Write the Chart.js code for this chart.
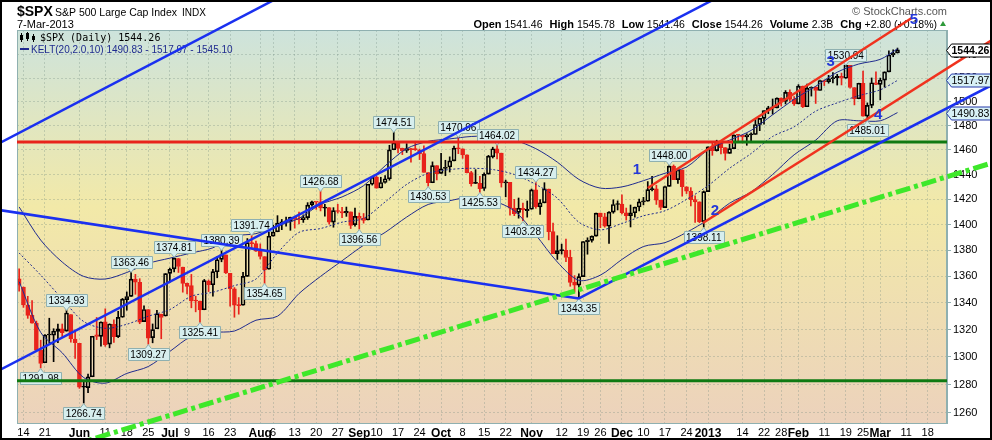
<!DOCTYPE html>
<html>
<head>
<meta charset="utf-8">
<script src="https://cdn.jsdelivr.net/npm/chart.js@4.4.1/dist/chart.umd.min.js"></script>
<style>
  html, body { margin: 0; padding: 0; background: #fff; }
  #wrap { width: 992px; height: 440px; }
</style>
</head>
<body>
<div id="wrap"><canvas id="spx" width="992" height="440"></canvas></div>
<script>
// daily bars, 11 May 2012 .. 7 Mar 2013
const dates = [
  '2012-05-11','2012-05-14','2012-05-15','2012-05-16','2012-05-17','2012-05-18','2012-05-21','2012-05-22','2012-05-23','2012-05-24','2012-05-25','2012-05-29','2012-05-30','2012-05-31',
  '2012-06-01','2012-06-04','2012-06-05','2012-06-06','2012-06-07','2012-06-08','2012-06-11','2012-06-12','2012-06-13','2012-06-14','2012-06-15','2012-06-18','2012-06-19','2012-06-20','2012-06-21','2012-06-22','2012-06-25','2012-06-26','2012-06-27','2012-06-28','2012-06-29',
  '2012-07-02','2012-07-03','2012-07-05','2012-07-06','2012-07-09','2012-07-10','2012-07-11','2012-07-12','2012-07-13','2012-07-16','2012-07-17','2012-07-18','2012-07-19','2012-07-20','2012-07-23','2012-07-24','2012-07-25','2012-07-26','2012-07-27','2012-07-30','2012-07-31',
  '2012-08-01','2012-08-02','2012-08-03','2012-08-06','2012-08-07','2012-08-08','2012-08-09','2012-08-10','2012-08-13','2012-08-14','2012-08-15','2012-08-16','2012-08-17','2012-08-20','2012-08-21','2012-08-22','2012-08-23','2012-08-24','2012-08-27','2012-08-28','2012-08-29','2012-08-30','2012-08-31',
  '2012-09-04','2012-09-05','2012-09-06','2012-09-07','2012-09-10','2012-09-11','2012-09-12','2012-09-13','2012-09-14','2012-09-17','2012-09-18','2012-09-19','2012-09-20','2012-09-21','2012-09-24','2012-09-25','2012-09-26','2012-09-27','2012-09-28',
  '2012-10-01','2012-10-02','2012-10-03','2012-10-04','2012-10-05','2012-10-08','2012-10-09','2012-10-10','2012-10-11','2012-10-12','2012-10-15','2012-10-16','2012-10-17','2012-10-18','2012-10-19','2012-10-22','2012-10-23','2012-10-24','2012-10-25','2012-10-26','2012-10-31',
  '2012-11-01','2012-11-02','2012-11-05','2012-11-06','2012-11-07','2012-11-08','2012-11-09','2012-11-12','2012-11-13','2012-11-14','2012-11-15','2012-11-16','2012-11-19','2012-11-20','2012-11-21','2012-11-23','2012-11-26','2012-11-27','2012-11-28','2012-11-29','2012-11-30',
  '2012-12-03','2012-12-04','2012-12-05','2012-12-06','2012-12-07','2012-12-10','2012-12-11','2012-12-12','2012-12-13','2012-12-14','2012-12-17','2012-12-18','2012-12-19','2012-12-20','2012-12-21','2012-12-24','2012-12-26','2012-12-27','2012-12-28','2012-12-31',
  '2013-01-02','2013-01-03','2013-01-04','2013-01-07','2013-01-08','2013-01-09','2013-01-10','2013-01-11','2013-01-14','2013-01-15','2013-01-16','2013-01-17','2013-01-18','2013-01-22','2013-01-23','2013-01-24','2013-01-25','2013-01-28','2013-01-29','2013-01-30','2013-01-31',
  '2013-02-01','2013-02-04','2013-02-05','2013-02-06','2013-02-07','2013-02-08','2013-02-11','2013-02-12','2013-02-13','2013-02-14','2013-02-15','2013-02-19','2013-02-20','2013-02-21','2013-02-22','2013-02-25','2013-02-26','2013-02-27','2013-02-28',
  '2013-03-01','2013-03-04','2013-03-05','2013-03-06','2013-03-07'
];
// empty days to the right edge
const futureDates = ['2013-03-08','2013-03-11','2013-03-12','2013-03-13','2013-03-14','2013-03-15','2013-03-18','2013-03-19','2013-03-20','2013-03-21','2013-03-22'];

const opens = [
  1358.11,1351.93,1338.36,1330.78,1324.82,1305.05,1295.73,1316.09,1316.02,1318.72,1320.64,1318.90,1331.25,1313.09,
  1309.87,1278.29,1277.82,1285.61,1316.15,1314.99,1325.72,1309.40,1324.02,1314.88,1329.19,1342.42,1344.83,1357.99,1355.43,1325.92,1334.90,1314.09,1320.71,1331.52,1330.12,
  1362.33,1365.75,1373.72,1367.09,1354.66,1352.96,1341.40,1341.29,1334.81,1356.50,1353.68,1363.58,1373.01,1376.51,1362.34,1350.52,1338.35,1338.17,1360.05,1385.94,1385.27,
  1379.32,1375.13,1365.45,1391.04,1394.46,1401.23,1402.26,1402.58,1405.87,1404.36,1403.89,1405.57,1415.84,1417.85,1418.13,1413.09,1413.49,1401.99,1411.13,1410.44,1409.32,1410.08,1400.07,
  1406.54,1404.94,1403.74,1432.12,1437.92,1429.13,1433.56,1436.56,1460.07,1465.42,1461.19,1459.50,1461.05,1460.34,1459.76,1456.94,1441.60,1433.36,1447.13,
  1440.90,1444.99,1446.05,1451.08,1461.40,1460.93,1455.90,1441.48,1432.82,1432.84,1428.75,1440.31,1454.22,1460.94,1457.34,1433.21,1433.74,1413.20,1409.74,1412.97,1410.99,
  1412.20,1427.59,1414.02,1417.26,1428.27,1394.53,1377.55,1379.86,1380.03,1374.64,1355.41,1353.36,1359.88,1386.82,1387.79,1391.03,1409.15,1406.29,1398.77,1409.96,1415.95,
  1416.34,1409.46,1407.05,1409.43,1413.95,1418.07,1418.55,1427.84,1428.48,1419.45,1413.54,1430.47,1446.79,1435.81,1443.67,1430.15,1426.66,1419.83,1418.10,1402.43,
  1426.19,1462.42,1459.37,1466.47,1461.89,1457.15,1461.02,1472.12,1472.05,1470.67,1472.33,1472.63,1480.95,1485.98,1492.56,1494.81,1494.82,1502.96,1500.18,1507.84,1501.96,
  1498.11,1513.17,1495.71,1511.29,1512.12,1509.39,1517.93,1517.01,1519.43,1520.33,1521.38,1519.79,1530.94,1511.95,1502.42,1515.60,1487.85,1496.94,1515.99,
  1514.68,1518.20,1525.20,1539.79,1541.46
];
const highs = [
  1365.88,1351.93,1344.94,1341.78,1326.36,1312.24,1316.39,1328.49,1320.71,1324.14,1324.20,1334.93,1331.25,1319.74,
  1309.87,1282.55,1287.62,1315.13,1329.05,1325.81,1335.52,1324.31,1327.28,1333.68,1343.32,1348.22,1363.46,1361.57,1358.27,1337.82,1334.90,1324.24,1334.40,1331.52,1362.17,
  1366.35,1374.81,1373.85,1367.09,1354.87,1361.54,1345.00,1341.29,1357.70,1357.26,1365.36,1375.26,1380.39,1376.51,1362.34,1351.53,1343.98,1363.13,1389.19,1391.74,1387.16,
  1385.03,1375.13,1394.16,1399.63,1407.14,1404.14,1405.95,1405.98,1405.87,1410.03,1407.73,1417.44,1418.71,1418.13,1426.68,1416.12,1413.49,1413.46,1416.17,1413.63,1413.95,1410.08,1413.09,
  1409.31,1408.81,1432.12,1437.92,1438.74,1437.76,1439.15,1463.76,1474.51,1465.63,1461.47,1465.15,1461.23,1467.07,1460.72,1463.24,1441.60,1450.20,1447.13,
  1457.14,1451.52,1454.30,1463.14,1470.96,1460.93,1455.90,1442.52,1443.90,1438.43,1441.31,1455.51,1462.20,1464.02,1457.34,1435.46,1433.74,1420.04,1421.12,1417.09,1418.76,
  1428.35,1434.27,1419.90,1433.38,1428.27,1401.23,1391.39,1384.87,1388.81,1380.13,1360.62,1362.03,1386.89,1389.77,1391.25,1409.16,1409.15,1409.01,1410.31,1419.70,1418.86,
  1423.73,1413.14,1415.56,1413.95,1420.34,1421.64,1434.27,1438.59,1431.36,1419.45,1430.67,1448.00,1447.75,1443.70,1443.67,1430.15,1429.42,1422.80,1418.10,1426.74,
  1462.43,1465.47,1467.94,1466.47,1461.89,1464.73,1472.30,1472.75,1472.05,1473.31,1473.96,1485.16,1485.98,1492.56,1496.13,1502.27,1503.26,1503.23,1509.35,1509.94,1504.19,
  1514.41,1513.17,1514.96,1512.53,1512.90,1518.31,1518.31,1522.29,1524.69,1523.14,1524.24,1530.94,1530.94,1511.95,1515.64,1525.84,1498.99,1520.08,1525.34,
  1519.99,1525.27,1543.47,1544.26,1545.78
];
const lows = [
  1348.89,1336.61,1328.41,1324.79,1304.86,1291.98,1295.73,1310.04,1296.53,1310.50,1314.23,1318.90,1310.76,1298.90,
  1277.25,1266.74,1274.16,1285.61,1312.68,1307.77,1307.73,1306.62,1310.51,1314.14,1329.19,1334.46,1344.83,1346.45,1324.41,1325.92,1309.27,1310.30,1320.71,1313.29,1330.12,
  1355.70,1363.53,1363.02,1348.03,1346.65,1336.27,1333.25,1325.41,1334.81,1348.51,1345.07,1358.96,1371.21,1362.19,1337.56,1329.24,1331.50,1338.17,1360.05,1381.37,1379.17,
  1373.35,1354.65,1365.45,1391.04,1394.46,1396.13,1398.80,1395.62,1397.32,1400.60,1401.83,1404.15,1414.67,1412.12,1410.86,1406.78,1400.50,1398.04,1409.11,1405.59,1406.57,1397.01,1398.96,
  1396.56,1401.25,1403.74,1431.45,1428.98,1429.13,1432.99,1435.34,1460.07,1457.55,1456.13,1457.88,1449.98,1459.51,1452.06,1441.59,1430.53,1433.36,1435.60,
  1440.90,1439.01,1441.99,1451.08,1456.89,1453.10,1441.18,1430.64,1432.82,1425.53,1427.24,1440.31,1453.35,1452.63,1429.85,1422.06,1407.56,1407.10,1405.14,1403.28,1405.95,
  1412.20,1412.91,1408.13,1417.26,1388.14,1377.51,1373.03,1377.19,1371.39,1352.50,1348.05,1343.35,1359.88,1377.04,1386.39,1391.03,1397.68,1398.03,1385.43,1409.04,1411.63,
  1408.46,1403.65,1398.23,1405.93,1410.90,1415.64,1418.55,1426.76,1416.00,1411.88,1413.54,1430.47,1435.80,1432.82,1422.58,1424.66,1414.82,1401.80,1401.58,1398.11,
  1426.19,1455.53,1458.99,1456.62,1451.64,1457.15,1461.02,1467.58,1465.69,1463.76,1467.60,1472.63,1475.81,1481.16,1489.90,1489.46,1494.82,1496.33,1498.09,1500.11,1496.76,
  1498.11,1495.02,1495.71,1504.71,1498.49,1509.39,1513.61,1515.61,1515.93,1514.02,1514.14,1519.79,1511.41,1497.29,1502.42,1487.85,1485.01,1494.88,1514.46,
  1501.48,1512.29,1525.20,1538.28,1541.46
];
const closes = [
  1353.39,1338.35,1330.66,1324.80,1304.86,1295.22,1315.99,1316.63,1318.86,1320.68,1317.82,1332.42,1313.32,1310.33,
  1278.04,1278.18,1285.50,1315.13,1314.99,1325.66,1308.93,1324.18,1314.88,1329.10,1342.84,1344.78,1357.98,1355.69,1325.51,1335.02,1313.72,1319.99,1331.85,1329.04,1362.16,
  1365.51,1374.02,1367.58,1354.68,1352.46,1341.47,1341.45,1334.76,1356.78,1353.64,1363.67,1372.78,1376.51,1362.66,1350.52,1338.31,1337.89,1360.02,1385.97,1385.30,1379.32,
  1375.32,1365.00,1390.99,1394.23,1401.35,1402.22,1402.80,1405.87,1404.11,1403.93,1405.53,1415.51,1418.16,1418.13,1413.17,1413.49,1402.08,1411.13,1410.44,1409.30,1410.49,1399.48,1406.58,
  1404.94,1403.44,1432.12,1437.92,1429.08,1433.56,1436.56,1459.99,1465.77,1461.19,1459.32,1461.05,1460.26,1460.15,1456.89,1441.59,1433.32,1447.15,1440.67,
  1444.49,1445.75,1450.99,1461.40,1460.93,1455.88,1441.48,1432.56,1432.84,1428.59,1440.13,1454.92,1460.91,1457.34,1433.19,1433.82,1413.11,1408.75,1412.97,1411.94,1412.16,
  1427.59,1414.20,1417.26,1428.39,1394.53,1377.51,1379.85,1380.03,1374.53,1355.49,1353.33,1359.88,1386.89,1387.81,1391.03,1409.15,1406.29,1398.94,1409.93,1415.95,1416.18,
  1409.46,1407.05,1409.28,1413.94,1418.07,1418.55,1427.84,1428.48,1419.45,1413.58,1430.36,1446.79,1435.81,1443.69,1430.15,1426.66,1419.83,1418.10,1402.43,1426.19,
  1462.42,1459.37,1466.47,1461.89,1457.15,1461.02,1472.12,1472.05,1470.68,1472.34,1472.63,1480.94,1485.98,1492.56,1494.81,1494.82,1502.96,1500.18,1507.84,1501.96,1498.11,
  1513.17,1495.71,1511.29,1512.12,1509.39,1517.93,1517.01,1519.43,1520.33,1521.38,1519.79,1530.94,1511.95,1502.42,1515.60,1487.85,1496.94,1515.99,1514.68,
  1518.20,1525.20,1539.79,1541.46,1544.26
];

// KELT(20,2.0,10), one point a week
const keltDates = ['2012-05-11','2012-05-18','2012-05-25','2012-06-04','2012-06-11','2012-06-18','2012-06-25','2012-07-02','2012-07-10','2012-07-17','2012-07-24','2012-07-31',
  '2012-08-07','2012-08-14','2012-08-21','2012-08-28','2012-09-05','2012-09-12','2012-09-19','2012-09-26','2012-10-03','2012-10-10','2012-10-17','2012-10-24','2012-11-02',
  '2012-11-09','2012-11-16','2012-11-26','2012-12-03','2012-12-10','2012-12-17','2012-12-24','2013-01-02','2013-01-09','2013-01-16','2013-01-24','2013-01-31','2013-02-07',
  '2013-02-14','2013-02-22','2013-03-01','2013-03-07'];
const keltUpper = [1414,1388,1371,1360,1358,1363,1370,1374,1378,1382,1391,1393,1399,1405,1416,1422,1431,1447,1461,1467,1469,1471,1471,1468,1461,
  1450,1436,1429,1430,1435,1441,1446,1460,1468,1476,1489,1502,1513,1525,1532,1536,1545.10];
const keltMiddle = [1378,1361,1343,1326,1321,1324,1330,1335,1345,1348,1353,1358,1378,1394,1397,1402,1405,1418,1432,1441,1444,1445,1444,1440,1432,
  1421,1402,1396,1401,1407,1411,1420,1431,1445,1457,1471,1479,1492,1499,1505,1510,1517.97];
const keltLower = [1356,1318,1303,1285,1281,1288,1293,1304,1315,1318,1319,1327,1330,1347,1360,1372,1384,1394,1406,1416,1419,1422,1419,1411,1392,
  1371,1357,1361,1373,1383,1386,1394,1404,1417,1426,1440,1456,1468,1484,1484,1484,1490.83];

const yTicks = [1260,1280,1300,1320,1340,1360,1380,1400,1420,1440,1460,1480,1500,1520,1540];
const xTickLabels = {
  '2012-05-14':'14','2012-05-21':'21','2012-06-01':'Jun','2012-06-11':'11','2012-06-18':'18','2012-06-25':'25',
  '2012-07-02':'Jul','2012-07-09':'9','2012-07-16':'16','2012-07-23':'23','2012-08-01':'Aug','2012-08-06':'6',
  '2012-08-13':'13','2012-08-20':'20','2012-08-27':'27','2012-09-04':'Sep','2012-09-10':'10','2012-09-17':'17',
  '2012-09-24':'24','2012-10-01':'Oct','2012-10-08':'8','2012-10-15':'15','2012-10-22':'22','2012-11-01':'Nov',
  '2012-11-12':'12','2012-11-19':'19','2012-11-26':'26','2012-12-03':'Dec','2012-12-10':'10','2012-12-17':'17',
  '2012-12-24':'24','2013-01-02':'2013','2013-01-14':'14','2013-01-22':'22','2013-01-28':'28','2013-02-01':'Feb',
  '2013-02-11':'11','2013-02-19':'19','2013-02-25':'25','2013-03-01':'Mar','2013-03-11':'11','2013-03-18':'18'
};
const boldLabels = ['Jun','Jul','Aug','Sep','Oct','Nov','Dec','2013','Feb','Mar'];

// price flags: which bar, and whether the flag marks its high or low
const flagDates = ['2012-05-18','2012-05-29','2012-06-04','2012-06-19','2012-06-25','2012-07-03','2012-07-12','2012-07-19',
  '2012-07-30','2012-08-02','2012-08-21','2012-09-04','2012-09-14','2012-09-26','2012-10-05','2012-10-12','2012-10-18',
  '2012-10-26','2012-11-02','2012-11-16','2012-12-18','2012-12-31','2013-02-19','2013-02-26'];
const flagSides = ['L','H','L','H','L','H','L','H','H','L','H','L','H','L','H','L','H','L','H','L','H','L','H','L'];

// hand drawn lines, [bar index, price] pairs
const blueLines = [
  [[-4.46, 1465.7], [59.17, 1588.0], 'both'],
  [[-4.46, 1290.5], [161.1, 1588.0], 'both'],
  [[-4.46, 1411.5], [130, 1343.35], 'start'],
  [[130, 1343.35], [225.9, 1514.0], 'end']
];
const redLines = [
  [[146.0, 1429.1], [207.3, 1572.0], 'none'],
  [[158.8, 1401.4], [225.9, 1552.7], 'end']
];
const greenDashLine = [[16.45, 1240.9], [225.9, 1449.3]];
const resistLevel = 1466.5, resistTurnIdx = 165.8;
const supportLevel = 1282.8;
const waveText = ['1','2','3','4','5'];
const waveIdx = [143.5, 161.6, 188.5, 199.5, 207.8];
const wavePrice = [1443.6, 1410.8, 1533.9, 1489.2, 1570.3];
const volumeText = '2.3B';

const RED = '#e8231b', BLUE = '#1a30f0', NAVY = '#1f2b8f';
const FONT = '"Liberation Sans", Arial, sans-serif';
Chart.defaults.font.family = FONT;

const allDates = dates.concat(futureDates);
const n = closes.length;
const candleColor = closes.map((c, i) => c < (i ? closes[i - 1] : opens[i]) ? RED : '#000000');
const bodyFill = closes.map((c, i) => c < opens[i] ? candleColor[i] : 'rgba(0,0,0,0)');

function drawFlag(ctx, x, y, text, below) {
  ctx.font = '10px ' + FONT;
  const w = Math.round(ctx.measureText(text).width) + 5, h = 12;
  const bx = Math.round(x - w / 2) + 0.5;
  const by = Math.round(below ? y + 4 : y - 4 - h) + 0.5;
  ctx.fillStyle = '#d7eeee';
  ctx.strokeStyle = '#8fb0b0';
  ctx.lineWidth = 1;
  ctx.beginPath();
  if (below) {
    ctx.moveTo(bx, by); ctx.lineTo(x - 3, by); ctx.lineTo(x, by - 4); ctx.lineTo(x + 3, by);
    ctx.lineTo(bx + w, by); ctx.lineTo(bx + w, by + h); ctx.lineTo(bx, by + h);
  } else {
    ctx.moveTo(bx, by); ctx.lineTo(bx + w, by); ctx.lineTo(bx + w, by + h); ctx.lineTo(x + 3, by + h);
    ctx.lineTo(x, by + h + 4); ctx.lineTo(x - 3, by + h); ctx.lineTo(bx, by + h);
  }
  ctx.closePath();
  ctx.fill(); ctx.stroke();
  ctx.fillStyle = '#000';
  ctx.textAlign = 'center';
  ctx.textBaseline = 'middle';
  ctx.fillText(text, x, by + h / 2 + 0.5);
}

function strokeTrend(ctx, chart, p1, p2, extend) {
  const xs = chart.scales.x, ys = chart.scales.y;
  let x1 = xs.getPixelForValue(p1[0]), y1 = ys.getPixelForValue(p1[1]);
  let x2 = xs.getPixelForValue(p2[0]), y2 = ys.getPixelForValue(p2[1]);
  const dx = x2 - x1, dy = y2 - y1;
  if (extend === 'both' || extend === 'start') { x1 -= dx * 20; y1 -= dy * 20; }
  if (extend === 'both' || extend === 'end') { x2 += dx * 20; y2 += dy * 20; }
  ctx.beginPath(); ctx.moveTo(x1, y1); ctx.lineTo(x2, y2); ctx.stroke();
}

function axisTag(ctx, x, y, text, bold, fill, stroke) {
  ctx.font = (bold ? 'bold ' : '') + '10.5px ' + FONT;
  ctx.beginPath();
  ctx.moveTo(x - 1, y); ctx.lineTo(x + 4, y - 6.5); ctx.lineTo(990.5, y - 6.5);
  ctx.lineTo(990.5, y + 6.5); ctx.lineTo(x + 4, y + 6.5); ctx.closePath();
  ctx.fillStyle = fill; ctx.fill();
  ctx.strokeStyle = stroke; ctx.lineWidth = 1; ctx.stroke();
  ctx.fillStyle = '#000'; ctx.textAlign = 'left'; ctx.textBaseline = 'middle';
  ctx.fillText(text, x + 4, y + 0.5);
}

const backdrop = {
  id: 'backdrop',
  beforeDraw(chart) {
    const { ctx, chartArea: a } = chart;
    ctx.save();
    ctx.fillStyle = '#fff';
    ctx.fillRect(0, 0, chart.width, chart.height);
    const g = ctx.createLinearGradient(0, a.top, 0, a.bottom);
    g.addColorStop(0, '#cde3dc');
    g.addColorStop(0.45, '#f2e9a8');
    g.addColorStop(1, '#ecd2bc');
    ctx.fillStyle = g;
    ctx.fillRect(a.left, a.top, a.right - a.left, a.bottom - a.top);
    ctx.restore();
  }
};

const overlay = {
  id: 'overlay',
  afterDraw(chart) {
    const { ctx, chartArea: a } = chart;
    const xs = chart.scales.x, ys = chart.scales.y;
    ctx.save();

    // plot frame
    ctx.strokeStyle = '#8fb0b0'; ctx.lineWidth = 1;
    ctx.strokeRect(a.left + 0.5, a.top + 0.5, a.right - a.left - 1, a.bottom - a.top);

    // legend
    ctx.fillStyle = '#000';
    ctx.fillRect(21, 33, 1, 9); ctx.strokeStyle = '#000'; ctx.strokeRect(20.5, 35.5, 2, 4);
    ctx.fillRect(27, 32, 1, 9); ctx.strokeRect(26.5, 33.5, 2, 5);
    ctx.fillRect(33, 34, 1, 8); ctx.fillRect(32, 36, 3, 4);
    ctx.font = '10px "DejaVu Sans Mono", monospace';
    ctx.textAlign = 'left'; ctx.textBaseline = 'alphabetic';
    ctx.fillText('$SPX (Daily) ' + closes[n - 1].toFixed(2), 40, 41);
    ctx.fillStyle = NAVY;
    ctx.fillRect(20, 48, 9, 2);
    ctx.font = '10px ' + FONT;
    ctx.fillText('KELT(20,2.0,10) ' + keltLower[keltLower.length - 1].toFixed(2) + ' - ' +
      keltMiddle[keltMiddle.length - 1].toFixed(2) + ' - ' + keltUpper[keltUpper.length - 1].toFixed(2), 31, 53);

    // price flags
    flagDates.forEach((d, k) => {
      const i = dates.indexOf(d);
      const v = flagSides[k] === 'H' ? highs[i] : lows[i];
      drawFlag(ctx, xs.getPixelForValue(i), ys.getPixelForValue(v), v.toFixed(2), flagSides[k] === 'L');
    });

    // header
    ctx.fillStyle = '#000'; ctx.textAlign = 'left'; ctx.textBaseline = 'alphabetic';
    ctx.font = 'bold 14px ' + FONT; ctx.fillText('$SPX', 17, 16);
    ctx.font = '10.5px ' + FONT; ctx.fillText('S&P 500 Large Cap Index', 55, 16);
    ctx.font = '10px ' + FONT; ctx.fillText('INDX', 182, 16);
    ctx.font = '11px ' + FONT; ctx.fillText('7-Mar-2013', 17, 28);
    const chg = closes[n - 1] - closes[n - 2];
    const quote = [
      ['Open', opens[n - 1].toFixed(2)], ['High', highs[n - 1].toFixed(2)], ['Low', lows[n - 1].toFixed(2)],
      ['Close', closes[n - 1].toFixed(2)], ['Volume', volumeText],
      ['Chg', '+' + chg.toFixed(2) + ' (+' + (chg / closes[n - 2] * 100).toFixed(2) + '%)']
    ];
    let total = 0;
    quote.forEach(([l, v]) => {
      ctx.font = 'bold 11px ' + FONT; total += ctx.measureText(l).width + 3;
      ctx.font = '10.5px ' + FONT; total += ctx.measureText(v).width + 7;
    });
    let qx = 944 - total;
    quote.forEach(([l, v]) => {
      ctx.font = 'bold 11px ' + FONT; ctx.fillText(l, qx, 28); qx += ctx.measureText(l).width + 3;
      ctx.font = '10.5px ' + FONT; ctx.fillText(v, qx, 28); qx += ctx.measureText(v).width + 7;
    });
    ctx.fillStyle = '#2e9a3a';
    ctx.beginPath(); ctx.moveTo(940, 26); ctx.lineTo(946, 26); ctx.lineTo(943, 21); ctx.closePath(); ctx.fill();
    ctx.fillStyle = '#555'; ctx.textAlign = 'right'; ctx.font = '11px ' + FONT;
    ctx.fillText('\u00a9 StockCharts.com', 947, 15);

    // horizontal levels
    ctx.lineWidth = 3;
    const ry = ys.getPixelForValue(resistLevel), tx = xs.getPixelForValue(resistTurnIdx);
    ctx.strokeStyle = RED;
    ctx.beginPath(); ctx.moveTo(a.left, ry); ctx.lineTo(tx, ry); ctx.stroke();
    ctx.strokeStyle = '#0f7a12';
    ctx.beginPath(); ctx.moveTo(tx, ry); ctx.lineTo(a.right, ry); ctx.stroke();
    const sy = ys.getPixelForValue(supportLevel);
    ctx.beginPath(); ctx.moveTo(a.left, sy); ctx.lineTo(a.right, sy); ctx.stroke();

    // trend lines
    ctx.lineWidth = 2.5;
    ctx.strokeStyle = BLUE;
    blueLines.forEach(l => strokeTrend(ctx, chart, l[0], l[1], l[2]));
    ctx.strokeStyle = '#f0321e';
    redLines.forEach(l => strokeTrend(ctx, chart, l[0], l[1], l[2]));
    ctx.strokeStyle = '#3ee82a'; ctx.lineWidth = 5; ctx.setLineDash([15, 4, 4, 4]);
    strokeTrend(ctx, chart, greenDashLine[0], greenDashLine[1], 'both');
    ctx.setLineDash([]);

    // wave counts
    ctx.fillStyle = '#2438d8'; ctx.font = 'bold 15px ' + FONT;
    ctx.textAlign = 'center'; ctx.textBaseline = 'middle';
    waveText.forEach((t, k) => ctx.fillText(t, xs.getPixelForValue(waveIdx[k]), ys.getPixelForValue(wavePrice[k])));

    // right axis tags
    const ax = a.right;
    axisTag(ctx, ax + 0.5, Math.round(ys.getPixelForValue(keltLower[keltLower.length - 1])) + 0.5,
      keltLower[keltLower.length - 1].toFixed(2), false, '#d8f1f6', '#2438a8');
    axisTag(ctx, ax + 0.5, Math.round(ys.getPixelForValue(keltMiddle[keltMiddle.length - 1])) + 0.5,
      keltMiddle[keltMiddle.length - 1].toFixed(2), false, '#d8f1f6', '#2438a8');
    axisTag(ctx, ax + 0.5, Math.round(ys.getPixelForValue(closes[n - 1])) + 0.5,
      closes[n - 1].toFixed(2), true, '#ffffff', '#000000');

    // outer border
    ctx.strokeStyle = '#000'; ctx.lineWidth = 2;
    ctx.strokeRect(1, 1, chart.width - 2, chart.height - 2);
    ctx.restore();
  }
};

const keltPoints = arr => keltDates.map((d, k) => ({ x: d, y: arr[k] }));

new Chart(document.getElementById('spx'), {
  data: {
    labels: allDates,
    datasets: [
      { type: 'line', data: keltPoints(keltUpper), borderColor: NAVY, borderWidth: 1, pointRadius: 0, tension: 0.3, order: 0 },
      { type: 'line', data: keltPoints(keltMiddle), borderColor: NAVY, borderWidth: 1, borderDash: [2, 2], pointRadius: 0, tension: 0.3, order: 0 },
      { type: 'line', data: keltPoints(keltLower), borderColor: NAVY, borderWidth: 1, pointRadius: 0, tension: 0.3, order: 0 },
      { type: 'bar', data: opens.map((o, i) => [Math.min(o, closes[i]), Math.max(o, closes[i])]),
        backgroundColor: bodyFill, borderColor: candleColor, borderWidth: 1, borderSkipped: false,
        barThickness: 4, minBarLength: 1, grouped: false, order: 1 },
      { type: 'bar', data: lows.map((l, i) => [l, Math.min(opens[i], closes[i])]),
        backgroundColor: candleColor, barThickness: 1, grouped: false, order: 2 },
      { type: 'bar', data: highs.map((h, i) => [Math.max(opens[i], closes[i]), h]),
        backgroundColor: candleColor, barThickness: 1, grouped: false, order: 2 }
    ]
  },
  options: {
    responsive: false,
    animation: false,
    devicePixelRatio: 1,
    events: [],
    layout: { padding: { left: 17, top: 30, right: 0, bottom: 0 } },
    plugins: { legend: { display: false }, tooltip: { enabled: false } },
    scales: {
      x: {
        type: 'category',
        offset: true,
        grid: {
          offset: false,
          drawTicks: false,
          color: c => xTickLabels[allDates[c.index]] ? 'rgba(110,135,125,0.3)' : 'rgba(0,0,0,0)'
        },
        border: { color: '#8fb0b0', dash: [2, 2] },
        ticks: {
          autoSkip: false, maxRotation: 0, minRotation: 0, padding: 3, color: '#000',
          font: c => boldLabels.includes(xTickLabels[allDates[c.index]]) ? { size: 12, weight: 'bold' } : { size: 11 },
          callback: (v, i) => xTickLabels[allDates[i]] || ''
        },
        afterFit: s => { s.height = 17; }
      },
      y: {
        type: 'logarithmic',
        position: 'right',
        min: 1252.7,
        max: 1561.5,
        afterBuildTicks: s => { s.ticks = yTicks.map(v => ({ value: v })); },
        grid: { color: 'rgba(110,135,125,0.3)', tickLength: 4, tickColor: '#8fb0b0' },
        border: { color: '#8fb0b0', dash: [2, 2] },
        ticks: { color: '#000', font: { size: 11 }, padding: 2, callback: v => String(v) },
        afterFit: s => { s.width = 45; }
      }
    }
  },
  plugins: [backdrop, overlay]
});
</script>
</body>
</html>
